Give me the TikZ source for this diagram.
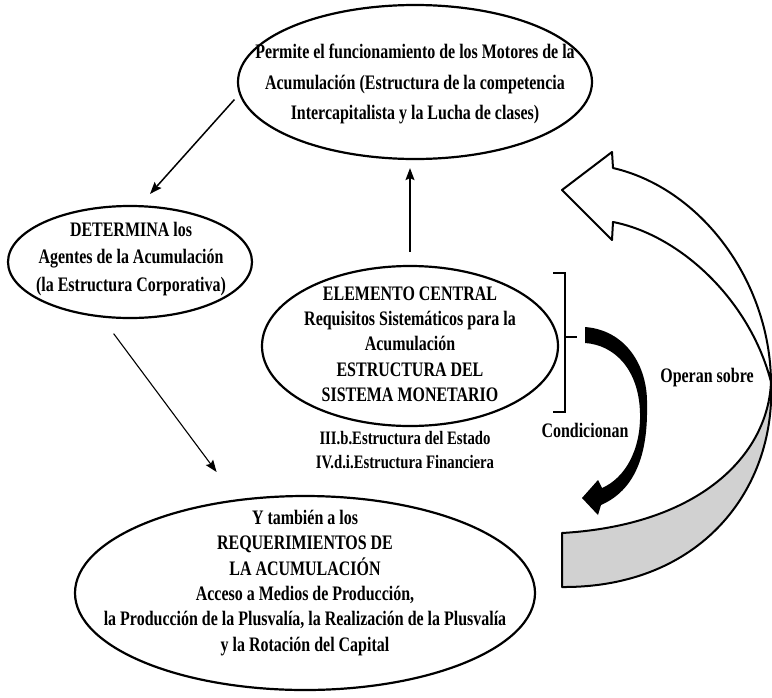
\documentclass[tikz,border=0pt]{standalone}
\usepackage{fontspec}
\setmainfont{Liberation Serif}[FakeStretch=0.775]
\usetikzlibrary{shapes.geometric,arrows.meta}
\tikzset{
  ell/.style={ellipse, draw, line width=2.2pt, inner sep=0pt},
  txt/.style={align=center, inner sep=0pt, font=\bfseries\fontsize{20.6pt}{25.3pt}\selectfont},
  conn/.style={-{Stealth[length=12pt,width=9pt,inset=2pt]}, line width=1.5pt},
}
\begin{document}
\begin{tikzpicture}[x=1pt,y=-1pt]
\useasboundingbox (0,0) rectangle (772,697);
% ellipses
\node[ell, minimum width=354pt, minimum height=154pt] (top) at (415,82) {};
\node[ell, minimum width=244pt, minimum height=112pt] (left) at (130,262) {};
\node[ell, minimum width=296pt, minimum height=160pt] (mid) at (410,346) {};
\node[ell, minimum width=460pt, minimum height=194pt] (bot) at (305,593) {};
% texts
\node[txt, font=\bfseries\fontsize{20.6pt}{30.5pt}\selectfont] (toptext) at (415,84)
  {Permite el funcionamiento de los Motores de la\\Acumulación (Estructura de la competencia\\Intercapitalista y la Lucha de clases)};
\node[txt, font=\bfseries\fontsize{20.6pt}{27.5pt}\selectfont] (lefttext) at (131,259)
  {DETERMINA los\\Agentes de la Acumulación\\(la Estructura Corporativa)};
\node[txt] (midtext) at (410,344)
  {ELEMENTO CENTRAL\\Requisitos Sistemáticos para la\\Acumulación\\ESTRUCTURA DEL\\SISTEMA MONETARIO};
\node[txt, font=\bfseries\fontsize{19pt}{24pt}\selectfont] (subtext) at (405,450)
  {III.b.Estructura del Estado\\IV.d.i.Estructura Financiera};
\node[txt] (bottext) at (305,583)
  {Y también a los\\REQUERIMIENTOS DE\\LA ACUMULACIÓN\\Acceso a Medios de Producción,\\la Producción de la Plusvalía, la Realización de la Plusvalía\\y la Rotación del Capital};
% connectors
\draw[conn, shorten <=7pt, shorten >=15pt] (top.184) -- (left.80);
\draw[conn, line width=1.1pt, shorten <=20pt, shorten >=34pt] (left.243) -- (bot.126);
\draw[conn, shorten <=13pt, shorten >=8pt] (mid.north) -- (mid.north |- top.south);
% bracket
\draw[line width=2pt] (553,273) -- (565,273) -- (565,412) -- (553,412);
\draw[line width=2pt] (565,337) -- (577,337);
% black curved arrow
\fill (585,327) .. controls (625,330) and (648,365) .. (647,405)
  .. controls (648,455) and (635,490) .. (601,505)
  -- (598,515) -- (582,498) -- (598,480) -- (602,488)
  .. controls (625,478) and (641,450) .. (640,413)
  .. controls (639,370) and (615,345) .. (585,343) -- cycle;
\node[txt] (cond) at (585,430) {Condicionan};
% big ribbon arrow
\filldraw[fill=white, line width=2pt, line join=round] (562,190) -- (612,152) -- (613,168) .. controls (700,188) and (770,280) .. (771,382) .. controls (750,300) and (680,235) .. (613,222) -- (612,240) -- cycle;
\filldraw[fill=black!18, line width=2pt, line join=round] (771,382) .. controls (776,490) and (700,588) .. (562,587) -- (562,533) .. controls (700,525) and (768,455) .. (771,382) -- cycle;
\node[txt] (operan) at (707,378) {Operan sobre};
\end{tikzpicture}
\end{document}
